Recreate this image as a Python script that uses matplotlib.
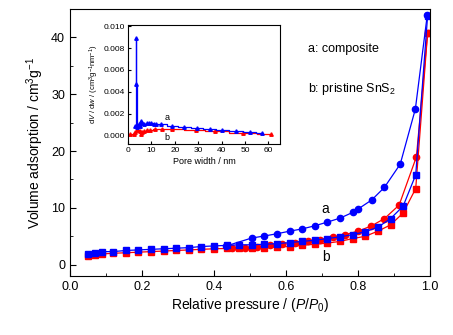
import matplotlib
matplotlib.use("Agg")
from matplotlib import pyplot as plt
from matplotlib.ticker import MultipleLocator

plt.rcParams['font.family'] = ['Liberation Sans', 'DejaVu Sans']
plt.rcParams['mathtext.fontset'] = 'custom'
plt.rcParams['mathtext.rm'] = 'Liberation Sans'
plt.rcParams['mathtext.it'] = 'Liberation Sans:italic'

# N2 isotherms, composite (a) and pristine SnS2 (b)
p_ads = [0.05, 0.07, 0.09, 0.12, 0.155, 0.19, 0.225, 0.26, 0.295, 0.33, 0.365,
         0.40, 0.435, 0.47, 0.505, 0.54, 0.575, 0.61, 0.645, 0.68, 0.715, 0.75,
         0.785, 0.82, 0.855, 0.89, 0.925, 0.96, 0.993]
a_ads = [1.9, 2.1, 2.3, 2.3, 2.5, 2.6, 2.7, 2.8, 2.9, 3.0, 3.2,
         3.3, 3.4, 3.5, 3.5, 3.6, 3.7, 3.9, 4.1, 4.3, 4.6, 4.9,
         5.3, 5.8, 6.6, 8.1, 10.3, 15.8, 43.8]
b_ads = [1.6, 1.7, 1.9, 2.0, 2.1, 2.2, 2.3, 2.4, 2.5, 2.6, 2.7,
         2.8, 2.85, 2.9, 2.95, 3.0, 3.1, 3.2, 3.4, 3.6, 3.8, 4.1,
         4.6, 5.0, 5.9, 7.0, 9.1, 13.4, 40.8]

p_des_a = [0.992, 0.959, 0.917, 0.873, 0.838, 0.80, 0.785, 0.75, 0.715, 0.68,
           0.645, 0.61, 0.575, 0.54, 0.505, 0.434]
a_des = [43.9, 27.4, 17.7, 13.6, 11.4, 9.8, 9.2, 8.2, 7.5, 6.85,
         6.3, 5.9, 5.45, 5.05, 4.7, 3.3]

p_des_b = [0.993, 0.962, 0.914, 0.873, 0.836, 0.80, 0.765, 0.73, 0.695, 0.66,
           0.625, 0.59, 0.555, 0.52, 0.485, 0.45]
b_des = [40.8, 19.0, 10.5, 8.1, 6.8, 5.9, 5.3, 4.8, 4.4, 4.1,
         3.8, 3.6, 3.4, 3.2, 3.0, 2.9]

# pore size distribution
w_a = [3.2, 3.3, 3.6, 4.0, 4.5, 5.0, 5.5, 6.0, 7.0, 8.0, 9.0, 10.0, 11.0,
       12.0, 14.0, 19.0, 24.0, 29.5, 35.0, 40.0, 46.0, 52.0, 57.5]
dv_a = [0.0009, 0.0089, 0.0047, 0.0008, 0.0010, 0.0009, 0.0013, 0.0011,
        0.0010, 0.0011, 0.0011, 0.0011, 0.0010, 0.0010, 0.0010, 0.0009,
        0.0008, 0.0007, 0.0006, 0.0005, 0.0004, 0.0003, 0.0002]
w_b = [1.0, 2.5, 3.0, 4.0, 5.0, 5.5, 6.0, 7.0, 8.0, 9.5, 11.5, 14.5, 19.0,
       29.0, 37.0, 49.0, 61.0]
dv_b = [0.0001, 0.0001, 0.0003, 0.0005, 0.0004, 0.0001, 0.0003, 0.0004,
        0.0005, 0.0005, 0.0006, 0.0006, 0.0006, 0.0005, 0.0004, 0.0002, 0.0001]

fig = plt.figure(figsize=(4.53, 3.35), dpi=100)
ax = fig.add_axes([0.1545, 0.176, 0.795, 0.797])

ax.plot(p_ads, b_ads, color='red', marker='s', ms=4.5, lw=0.9)
ax.plot(p_des_b, b_des, color='red', marker='o', ms=4.5, lw=0.9)
ax.plot(p_ads, a_ads, color='blue', marker='s', ms=4.5, lw=0.9)
ax.plot(p_des_a, a_des, color='blue', marker='o', ms=4.5, lw=0.9)

ax.set_xlim(0, 1.0)
ax.set_ylim(-2, 45)
ax.xaxis.set_major_locator(MultipleLocator(0.2))
ax.xaxis.set_minor_locator(MultipleLocator(0.1))
ax.yaxis.set_major_locator(MultipleLocator(10))
ax.yaxis.set_minor_locator(MultipleLocator(5))
ax.xaxis.set_major_formatter(plt.FuncFormatter(lambda v, _: "%.1f" % v))
ax.tick_params(which='both', direction='in', labelsize=9, top=False, right=False)
ax.tick_params(which='major', length=4)
ax.tick_params(which='minor', length=2)
ax.set_xlabel("Relative pressure / ($P$/$P_0$)", fontsize=10, labelpad=2)
ax.set_ylabel("Volume adsorption / cm$^3$g$^{-1}$", fontsize=10, labelpad=4)

ax.text(0.71, 9.8, "a", fontsize=10, ha='center', va='center')
ax.text(0.71, 1.4, "b", fontsize=10, ha='center', va='center')
ax.text(0.66, 38.0, "a: composite", fontsize=9, va='center')
ax.text(0.66, 31.0, "b: pristine SnS$_2$", fontsize=9, va='center')

# inset: pore width distribution
ins = fig.add_axes([0.2826, 0.570, 0.3355, 0.355])
ins.plot(w_b, dv_b, color='red', marker='^', ms=2.5, lw=0.9, drawstyle='steps-mid')
ins.plot(w_a, dv_a, color='blue', marker='^', ms=2.5, lw=0.9, drawstyle='steps-mid')
ins.set_xlim(0, 65)
ins.set_ylim(-0.0008, 0.0101)
ins.xaxis.set_major_locator(MultipleLocator(10))
ins.yaxis.set_major_locator(MultipleLocator(0.002))
ins.yaxis.set_major_formatter(plt.FuncFormatter(lambda v, _: "%.3f" % v))
ins.tick_params(which='both', direction='in', labelsize=6, top=False, right=False, length=2.5, pad=2)
ins.set_xlabel("Pore width / nm", fontsize=6.5, labelpad=2)
ins.set_ylabel("d$V$ / d$w$ / (cm$^3$g$^{-1}$nm$^{-1}$)", fontsize=5.5, labelpad=2)
ins.text(16.6, 0.00165, "a", fontsize=6.5, ha='center', va='center')
ins.text(16.6, -0.00016, "b", fontsize=6.5, ha='center', va='center')

fig.savefig("out.png", dpi=100)
